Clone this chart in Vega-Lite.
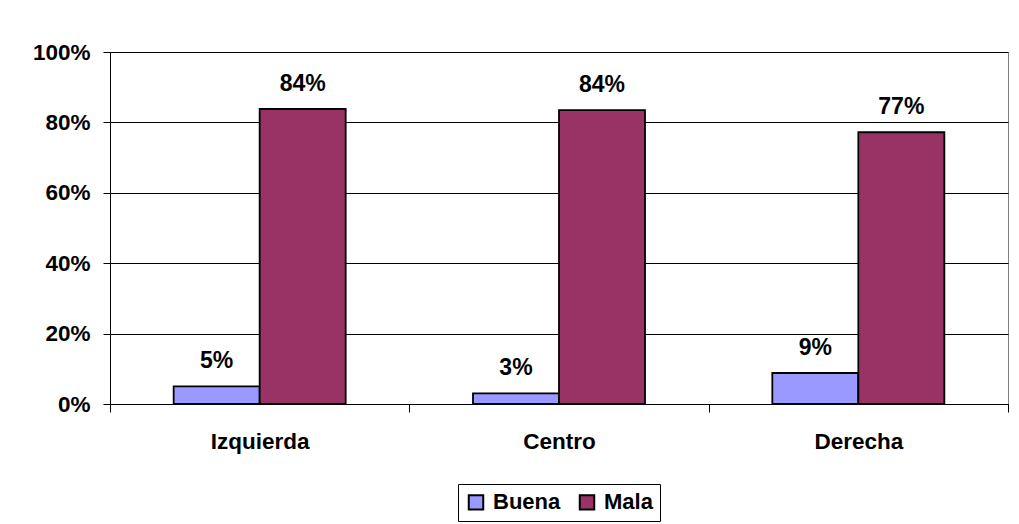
{
  "$schema": "https://vega.github.io/schema/vega-lite/v6.json",
  "width": 898,
  "height": 352,
  "autosize": "none",
  "padding": {"left": 110, "top": 52, "right": 11, "bottom": 120},
  "background": "white",
  "config": {
    "font": "Liberation Sans",
    "view": {"stroke": "#808080", "strokeWidth": 1}
  },
  "data": {
    "values": [
      {"grupo": "Izquierda", "serie": "Buena", "valor": 0.05},
      {"grupo": "Izquierda", "serie": "Mala", "valor": 0.838},
      {"grupo": "Centro", "serie": "Buena", "valor": 0.03},
      {"grupo": "Centro", "serie": "Mala", "valor": 0.835},
      {"grupo": "Derecha", "serie": "Buena", "valor": 0.088},
      {"grupo": "Derecha", "serie": "Mala", "valor": 0.772}
    ]
  },
  "encoding": {
    "x": {
      "field": "grupo",
      "type": "nominal",
      "sort": ["Izquierda", "Centro", "Derecha"],
      "scale": {"paddingInner": 0, "paddingOuter": 0},
      "axis": {
        "title": null,
        "labelAngle": 0,
        "labelFont": "Liberation Sans",
        "labelFontSize": 22.5,
        "labelFontWeight": "bold",
        "labelColor": "black",
        "labelPadding": 18,
        "tickBand": "extent",
        "tickSize": 8,
        "tickColor": "black",
        "domainColor": "black",
        "domainWidth": 1
      }
    },
    "xOffset": {
      "field": "serie",
      "type": "nominal",
      "scale": {"paddingInner": 0, "paddingOuter": 0.74}
    },
    "y": {
      "field": "valor",
      "type": "quantitative",
      "scale": {"domain": [0, 1], "nice": false},
      "axis": {
        "title": null,
        "values": [0, 0.2, 0.4, 0.6, 0.8, 1],
        "format": ".0%",
        "labelFont": "Liberation Sans",
        "labelFontSize": 22.5,
        "labelFontWeight": "bold",
        "labelColor": "black",
        "labelPadding": 13,
        "tickSize": 7,
        "tickColor": "black",
        "domainColor": "black",
        "grid": true,
        "gridColor": "black",
        "gridWidth": 1
      }
    }
  },
  "layer": [
    {
      "mark": {"type": "bar", "stroke": "black", "strokeWidth": 1.8},
      "encoding": {
        "color": {
          "field": "serie",
          "type": "nominal",
          "scale": {"domain": ["Buena", "Mala"], "range": ["#9999FF", "#993366"]},
          "legend": {
            "title": null,
            "orient": "none",
            "legendX": 348,
            "legendY": 432,
            "direction": "horizontal",
            "strokeColor": "black",
            "fillColor": "white",
            "padding": 7,
            "symbolType": "square",
            "symbolSize": 210,
            "symbolStrokeColor": "black",
            "symbolStrokeWidth": 2,
            "symbolOpacity": 1,
            "labelFont": "Liberation Sans",
            "labelFontSize": 22,
            "labelFontWeight": "bold",
            "labelColor": "black",
            "labelOffset": 6,
            "columnPadding": 14
          }
        }
      }
    },
    {
      "mark": {
        "type": "text",
        "baseline": "alphabetic",
        "dy": -18,
        "font": "Liberation Sans",
        "fontSize": 23,
        "fontWeight": "bold",
        "color": "black"
      },
      "encoding": {
        "text": {"field": "valor", "type": "quantitative", "format": ".0%"}
      }
    }
  ]
}
